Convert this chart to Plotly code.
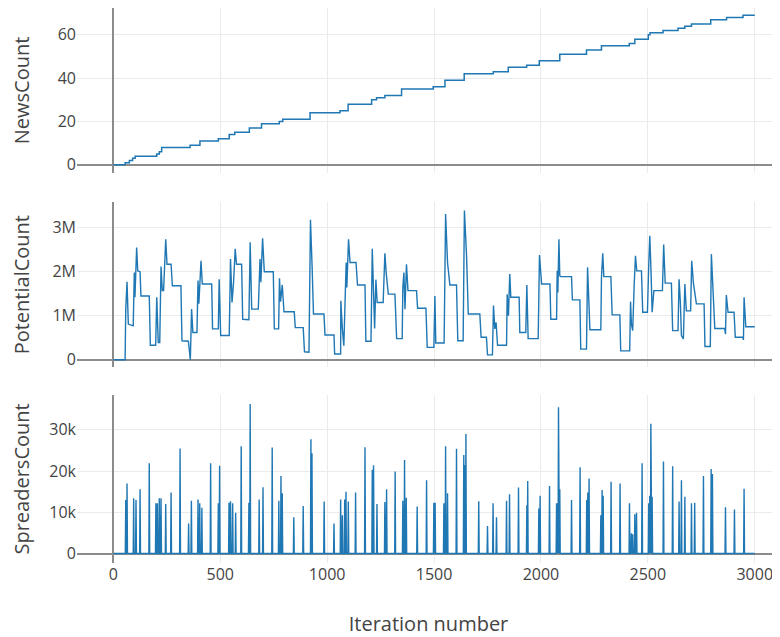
import plotly.graph_objects as go
from plotly.subplots import make_subplots

# ---------------- data ----------------
# NewsCount: iteration where the count changes, and the new count
news_iter = [0, 55, 75, 90, 102, 203, 215, 226, 359, 405, 491, 542, 568, 636, 693, 776, 792,
             920, 1060, 1098, 1208, 1231, 1270, 1348, 1496, 1551, 1641, 1777, 1847, 1933, 1992,
             2088, 2213, 2283, 2413, 2439, 2502, 2510, 2571, 2641, 2673, 2704, 2794, 2868, 2945, 3000]
news_count = [0, 1, 2, 3, 4, 5, 6, 8, 9, 11, 12, 14, 15, 17, 19, 20, 21,
              24, 25, 28, 30, 31, 32, 35, 36, 39, 42, 43, 45, 46, 48,
              51, 53, 55, 56, 58, 60, 61, 62, 63, 64, 65, 67, 68, 69, 69]

# PotentialCount: vertices of the line
potential_iter = [
    0, 55, 58, 64, 70, 93, 98, 101, 109, 114, 125, 129, 168, 173, 198, 203, 210, 217, 223, 229,
    235, 245, 251, 270, 276, 316, 321, 351, 360, 366, 372, 391, 396, 400, 410, 416, 460, 464, 491, 495,
    502, 542, 548, 555, 562, 570, 576, 600, 605, 634, 640, 647, 678, 686, 690, 698, 706, 748, 753, 773,
    777, 782, 790, 798, 846, 851, 888, 894, 915, 922, 930, 936, 985,
    990, 1032, 1035, 1063, 1064, 1071, 1078, 1085, 1089, 1092, 1100, 1107, 1135, 1142, 1177, 1181,
    1205, 1211, 1222, 1228, 1234, 1262, 1270, 1276, 1286, 1317, 1325, 1351, 1354, 1359, 1364, 1371,
    1378, 1418, 1423, 1462, 1468, 1499, 1504, 1508, 1547, 1554, 1563, 1574, 1605, 1611, 1636, 1642,
    1652, 1660, 1714, 1720, 1745, 1750, 1773, 1778, 1784, 1790, 1797, 1839, 1842, 1848, 1854, 1859,
    1898, 1901, 1929, 1934, 1940, 1987,
    1993, 2003, 2042, 2046, 2073, 2076, 2079, 2084, 2088, 2092, 2143, 2147, 2182, 2186, 2213, 2218,
    2224, 2229, 2280, 2283, 2289, 2294, 2327, 2333, 2369, 2373, 2415, 2419, 2423, 2429, 2436, 2442,
    2448, 2470, 2476, 2498, 2504, 2509, 2515, 2520, 2528, 2568, 2574, 2581, 2610, 2616, 2641, 2646,
    2652, 2657, 2666, 2673, 2680, 2700, 2705, 2713, 2727, 2763, 2767, 2792, 2797, 2805, 2813, 2859,
    2863, 2867, 2875, 2903, 2909, 2944, 2947, 2950, 2958, 3000]
potential_count = [
    0, 0, 1.15e6, 1.77e6, 0.81e6, 0.77e6, 1.98e6, 1.42e6, 2.55e6, 2.02e6, 2.0e6, 1.45e6, 1.45e6, 0.33e6, 0.33e6, 1.42e6, 0.39e6, 0.39e6, 2.12e6, 1.57e6,
    1.57e6, 2.74e6, 2.17e6, 2.17e6, 1.68e6, 1.68e6, 0.43e6, 0.42e6, 0, 1.15e6, 0.62e6, 0.62e6, 1.8e6, 1.27e6, 2.25e6, 1.72e6, 1.72e6, 0.7e6, 0.7e6, 1.83e6,
    0.55e6, 0.55e6, 2.29e6, 1.3e6, 1.74e6, 2.52e6, 2.17e6, 2.17e6, 0.92e6, 0.91e6, 2.67e6, 1.15e6, 1.15e6, 2.29e6, 1.76e6, 2.76e6, 2.0e6, 2.0e6, 0.7e6, 0.7e6,
    1.85e6, 1.32e6, 1.7e6, 1.09e6, 1.09e6, 0.73e6, 0.73e6, 0.18e6, 0.17e6, 3.18e6, 2.06e6, 1.04e6, 1.04e6,
    0.56e6, 0.56e6, 0.13e6, 0.13e6, 1.34e6, 0.7e6, 0.32e6, 1.53e6, 2.21e6, 1.64e6, 2.74e6, 2.21e6, 2.21e6, 1.7e6, 1.7e6, 0.42e6,
    0.42e6, 2.52e6, 0.71e6, 1.82e6, 1.3e6, 1.3e6, 2.42e6, 1.98e6, 1.49e6, 1.49e6, 0.48e6, 0.48e6, 1.64e6, 1.98e6, 1.15e6, 2.17e6,
    1.57e6, 1.57e6, 1.17e6, 1.17e6, 0.28e6, 0.28e6, 1.45e6, 0.38e6, 0.38e6, 3.31e6, 2.21e6, 1.7e6, 1.7e6, 0.43e6, 0.43e6, 3.39e6,
    2.36e6, 1.04e6, 1.04e6, 0.51e6, 0.51e6, 0.11e6, 0.11e6, 1.23e6, 0.7e6, 0.85e6, 0.33e6, 0.33e6, 1.49e6, 1.0e6, 1.95e6, 1.42e6,
    1.42e6, 0.62e6, 0.62e6, 1.7e6, 0.48e6, 0.48e6,
    2.38e6, 1.72e6, 1.72e6, 0.92e6, 0.92e6, 2.02e6, 1.53e6, 2.74e6, 1.91e6, 1.89e6, 1.89e6, 1.36e6, 1.36e6, 0.24e6, 0.24e6, 2.1e6,
    1.15e6, 0.68e6, 0.68e6, 1.87e6, 2.42e6, 1.89e6, 1.89e6, 1.02e6, 1.02e6, 0.2e6, 0.2e6, 1.32e6, 0.81e6, 0.66e6, 1.7e6, 2.36e6,
    2.02e6, 2.02e6, 1.08e6, 1.08e6, 2.14e6, 2.82e6, 1.98e6, 1.08e6, 1.57e6, 1.57e6, 2.62e6, 1.74e6, 1.74e6, 0.66e6, 0.66e6, 1.83e6,
    1.3e6, 0.55e6, 0.47e6, 1.72e6, 1.11e6, 1.11e6, 2.25e6, 1.74e6, 1.27e6, 1.27e6, 0.3e6, 0.3e6, 2.4e6, 1.38e6, 0.71e6, 0.71e6,
    0.58e6, 1.47e6, 1.08e6, 1.08e6, 0.51e6, 0.51e6, 0.45e6, 1.42e6, 0.75e6, 0.75e6]

# SpreadersCount: iteration of each spike and its peak (the count is 0 between spikes)
spike_iter = [58, 64, 95, 106, 125, 168, 199, 206, 215, 223, 245, 270, 312, 352, 365, 396, 404, 414,
              455, 491, 497, 541, 548, 558, 572, 598, 634, 640, 682, 700, 743, 774, 784, 790, 844, 888,
              924, 929, 986, 1032, 1063, 1071, 1082, 1088, 1099, 1133, 1177, 1211, 1217, 1233, 1270,
              1278, 1318, 1354, 1362, 1370, 1421, 1465, 1499, 1505, 1546, 1554, 1563, 1605, 1639, 1644,
              1649, 1709, 1750, 1776, 1792, 1839, 1853, 1895, 1934, 1938, 1990, 1996, 2040, 2073, 2077,
              2082, 2088, 2143, 2183, 2214, 2219, 2225, 2280, 2286, 2291, 2328, 2370, 2414, 2423, 2429,
              2439, 2447, 2473, 2504, 2509, 2514, 2520, 2573, 2616, 2646, 2657, 2673, 2704, 2719, 2760,
              2796, 2802, 2863, 2905, 2950]
spike_peak = [13000, 17000, 13400, 13000, 15600, 21900, 12200, 12200, 13400, 13400, 12000, 14800, 25500, 7300, 12800, 13100, 12200, 11100,
              21900, 12200, 21300, 12300, 12700, 12200, 9900, 26000, 12300, 36300, 13100, 16100, 25700, 12800, 18800, 14600, 8800, 11500,
              27700, 24300, 12600, 7300, 13100, 9300, 13100, 15000, 12600, 14800, 25800, 20300, 21400, 12000, 12500,
              15600, 19900, 12800, 22700, 13500, 11400, 17800, 12300, 12300, 12200, 26000, 14600, 25400, 23900, 21500,
              29000, 12700, 6700, 12200, 8800, 12800, 14400, 16000, 11700, 17600, 10900, 14000, 16400, 12200, 12200,
              35500, 15600, 13000, 20900, 13000, 14800, 18200, 9300, 15400, 14000, 17400, 17000, 12200, 4900, 4700,
              9500, 9900, 21900, 12200, 14000, 31500, 13800, 22300, 21200, 12600, 17800, 13800, 12200, 12300, 18800,
              20500, 19300, 11200, 10700, 15700]
last_iteration = 3000

# build the spreaders line: baseline 0 with a narrow spike at each listed iteration
spread_x, spread_y = [0], [0]
for it, pk in zip(spike_iter, spike_peak):
    spread_x += [it - 2, it, it + 2]
    spread_y += [0, pk, 0]
spread_x.append(last_iteration)
spread_y.append(0)

# ---------------- figure ----------------
color = "#1f77b4"
fig = make_subplots(rows=3, cols=1, shared_xaxes=True)

fig.add_trace(go.Scatter(x=news_iter, y=news_count, mode="lines", line=dict(color=color, width=1.5, shape="hv"),
                         showlegend=False), row=1, col=1)
fig.add_trace(go.Scatter(x=potential_iter, y=potential_count, mode="lines", line=dict(color=color, width=1.4),
                         showlegend=False), row=2, col=1)
fig.add_trace(go.Scatter(x=spread_x, y=spread_y, mode="lines", line=dict(color=color, width=1.4),
                         showlegend=False), row=3, col=1)

font_family = "Open Sans, verdana, arial, sans-serif"
axis_common = dict(showgrid=True, gridcolor="#ebebeb", gridwidth=1,
                   zeroline=True, zerolinecolor="#8c8c8c", zerolinewidth=2,
                   showline=False, ticks="", automargin=False,
                   tickfont=dict(size=16, color="#444"))

fig.update_layout(
    width=772, height=629,
    template="none",
    paper_bgcolor="white", plot_bgcolor="white",
    font=dict(family=font_family, color="#444"),
    margin=dict(l=69, r=0, t=0, b=74, autoexpand=False),
    showlegend=False,
)

for i in (1, 2, 3):
    fig.update_xaxes(range=[-170, 3118], dtick=500, **axis_common, row=i, col=1)
fig.update_xaxes(showticklabels=False, row=1, col=1)
fig.update_xaxes(showticklabels=False, row=2, col=1)
fig.update_xaxes(title=dict(text="Iteration number", font=dict(size=20, color="#444"), standoff=35), row=3, col=1)

title_font = dict(size=20, color="#444")
fig.update_yaxes(range=[-3.7, 72.4], tickvals=[0, 20, 40, 60], domain=[0.703, 1.0],
                 title=dict(text="NewsCount", font=title_font, standoff=23), **axis_common, row=1, col=1)
fig.update_yaxes(range=[-0.168e6, 3.58e6], tickvals=[0, 1e6, 2e6, 3e6], domain=[0.353, 0.650],
                 title=dict(text="PotentialCount", font=title_font, standoff=23), **axis_common, row=2, col=1)
fig.update_yaxes(range=[-2300, 38500], tickvals=[0, 10000, 20000, 30000], domain=[0.0, 0.303],
                 title=dict(text="SpreadersCount", font=title_font, standoff=23), **axis_common, row=3, col=1)

fig.write_html("out.html")
